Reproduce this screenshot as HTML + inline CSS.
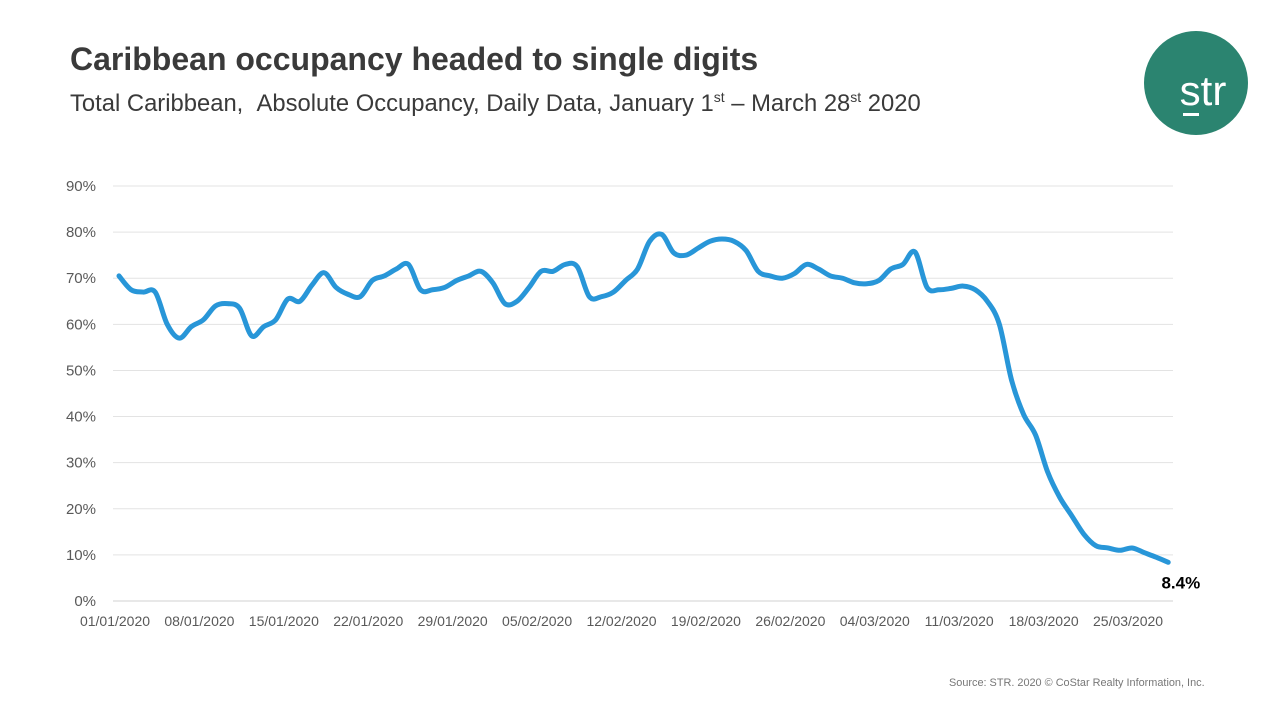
<!DOCTYPE html>
<html><head><meta charset="utf-8"><style>
body{margin:0;width:1280px;height:720px;background:#fff;font-family:"Liberation Sans",sans-serif;overflow:hidden;position:relative}
</style></head><body>
<div style="position:absolute;left:70px;top:41px;font-size:32px;font-weight:bold;color:#3a3a3a;white-space:nowrap">Caribbean occupancy headed to single digits</div>
<div style="position:absolute;left:70px;top:89px;font-size:23.8px;color:#3a3a3a;white-space:nowrap">Total Caribbean, &nbsp;Absolute Occupancy, Daily Data, January 1<sup style="font-size:14px">st</sup> – March 28<sup style="font-size:14px">st</sup> 2020</div>
<svg style="position:absolute;left:0;top:0" width="1280" height="140">
<circle cx="1196" cy="83" r="52" fill="#2b8470"/>
<text x="1203" y="105" text-anchor="middle" font-family="Liberation Sans" font-size="42" fill="#fff">str</text>
<rect x="1183" y="113" width="16" height="3" fill="#fff"/>
</svg>
<svg id="chart" style="position:absolute;left:0;top:0" width="1280" height="720"></svg>
<div style="position:absolute;left:949px;top:677px;font-size:10.9px;color:#777;white-space:nowrap">Source: STR. 2020 © CoStar Realty Information, Inc.</div>
<script>
const values=[70.5,67.5,67,67,60,57,59.5,61,64,64.5,63.5,57.5,59.5,61,65.5,65,68.5,71.2,68,66.5,66,69.5,70.5,72,73,67.5,67.5,68,69.5,70.5,71.5,69,64.5,65,68,71.5,71.5,73,72.5,66,66,67,69.5,72,78,79.5,75.5,75,76.5,78,78.5,78,76,71.5,70.5,70,71,73,72,70.5,70,69,68.8,69.5,72,73,75.7,68,67.5,67.8,68.3,67.5,65,60,48,40.5,36,28,22.5,18.5,14.5,12,11.5,11,11.5,10.5,9.5,8.4];
const xLabels=["01/01/2020","08/01/2020","15/01/2020","22/01/2020","29/01/2020","05/02/2020","12/02/2020","19/02/2020","26/02/2020","04/03/2020","11/03/2020","18/03/2020","25/03/2020"];
const yTicks=[0,10,20,30,40,50,60,70,80,90];
const endLabel="8.4%";
const svg=document.getElementById('chart');const NS='http://www.w3.org/2000/svg';
const x=i=>119+i*12.06, y=v=>601-v*4.611;
function mk(t,a,txt){const e=document.createElementNS(NS,t);for(const k in a)e.setAttribute(k,a[k]);if(txt!=null)e.textContent=txt;svg.appendChild(e);return e;}
yTicks.forEach(t=>{
 const g=mk('line',{x1:113,x2:1173,y1:y(t),y2:y(t),stroke:t===0?'#d0d0d0':'#e3e3e3','stroke-width':1});
 
 
 const l=mk('text',{x:96,y:y(t)+5,'text-anchor':'end','font-size':15,fill:'#595959','font-family':'Liberation Sans'},t+'%');
 
 
});
xLabels.forEach((s,i)=>{
 const l=mk('text',{x:x(i*7)-4,y:626,'text-anchor':'middle','font-size':14,fill:'#595959','font-family':'Liberation Sans'},s);
 
 
});
const P=values.map((v,i)=>[x(i),y(v)]);
let d='M'+P[0][0]+','+P[0][1];
for(let i=0;i<P.length-1;i++){const p0=P[Math.max(0,i-1)],p1=P[i],p2=P[i+1],p3=P[Math.min(P.length-1,i+2)];const t=6;
d+=' C'+(p1[0]+(p2[0]-p0[0])/t)+','+(p1[1]+(p2[1]-p0[1])/t)+' '+(p2[0]-(p3[0]-p1[0])/t)+','+(p2[1]-(p3[1]-p1[1])/t)+' '+p2[0]+','+p2[1];}
const line=mk('path',{d:d,fill:'none',stroke:'#2896d8','stroke-width':5,'stroke-linecap':'round','stroke-linejoin':'round'});


const el=mk('text',{x:x(values.length-1)+32,y:y(values[values.length-1])+26,'text-anchor':'end','font-size':17,'font-weight':'bold',fill:'#000','font-family':'Liberation Sans'},endLabel);


</script>
</body></html>
